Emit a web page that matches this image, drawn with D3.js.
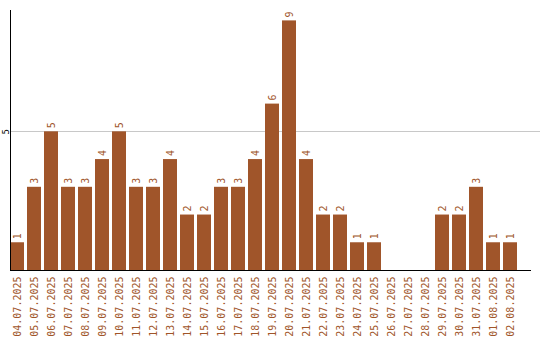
<!DOCTYPE html>
<html><head><meta charset="utf-8">
<script src="https://cdn.jsdelivr.net/npm/d3@7"></script>
<style>body{margin:0;background:#fff}svg{display:block}</style>
</head><body>
<svg id="c" width="540" height="340"></svg>
<script>
const categories = ["04.07.2025","05.07.2025","06.07.2025","07.07.2025","08.07.2025","09.07.2025","10.07.2025","11.07.2025","12.07.2025","13.07.2025","14.07.2025","15.07.2025","16.07.2025","17.07.2025","18.07.2025","19.07.2025","20.07.2025","21.07.2025","22.07.2025","23.07.2025","24.07.2025","25.07.2025","26.07.2025","27.07.2025","28.07.2025","29.07.2025","30.07.2025","31.07.2025","01.08.2025","02.08.2025"];
const values = [1,3,5,3,3,4,5,3,3,4,2,2,3,3,4,6,9,4,2,2,1,1,0,0,0,2,2,3,1,1];
const yTicks = [5];

const color = "#a0552a";
const font = "'DejaVu Sans Mono', monospace";
const svg = d3.select("#c");
const x = d3.scaleBand().domain(categories).range([10, 517]).paddingInner(3/17).paddingOuter(0);
const y = d3.scaleLinear().domain([0, 9.375]).range([270, 10]);
const rows = categories.map((c, i) => ({c, v: values[i]}));

// gridlines
svg.append("g").selectAll("line").data(yTicks).join("line")
  .attr("x1", 10).attr("x2", 540)
  .attr("y1", d => Math.round(y(d)) + 0.5).attr("y2", d => Math.round(y(d)) + 0.5)
  .attr("stroke", "#c8c8c8").attr("stroke-width", 1);

// bars
svg.append("g").selectAll("rect").data(rows).join("rect")
  .attr("x", d => Math.round(x(d.c)))
  .attr("width", Math.round(x.bandwidth()))
  .attr("y", d => y(d.v))
  .attr("height", d => y(0) - y(d.v))
  .attr("fill", color);

// value labels
svg.append("g").selectAll("text").data(rows.filter(d => d.v > 0)).join("text")
  .attr("transform", d => `translate(${x(d.c) + x.bandwidth()/2 + 3.5},${y(d.v) - 3}) rotate(-90)`)
  .attr("font-family", font).attr("font-size", 10).attr("fill", color)
  .text(d => d.v);

// y axis
const yAxis = svg.append("g").attr("transform", "translate(10.5,0)")
  .call(d3.axisLeft(y).tickValues(yTicks).tickSize(0).tickFormat(d3.format("d")));
yAxis.select(".domain").attr("stroke", "#000").attr("d", `M0,10V270`);
yAxis.selectAll("text").attr("font-family", font).attr("font-size", 9).attr("fill", "#000")
  .attr("x", null).attr("dy", null).attr("text-anchor", "middle")
  .attr("transform", "translate(-2,0) rotate(-90)");

// x axis
const xAxis = svg.append("g").attr("transform", "translate(0,270.5)")
  .call(d3.axisBottom(x).tickSize(0));
xAxis.select(".domain").attr("stroke", "#000").attr("d", "M10,0H531");
xAxis.selectAll("text").attr("font-family", font).attr("font-size", 10).attr("fill", color)
  .attr("y", null).attr("dy", null).attr("text-anchor", "end")
  .attr("transform", "translate(3.5,6) rotate(-90)");
</script>
</body></html>
